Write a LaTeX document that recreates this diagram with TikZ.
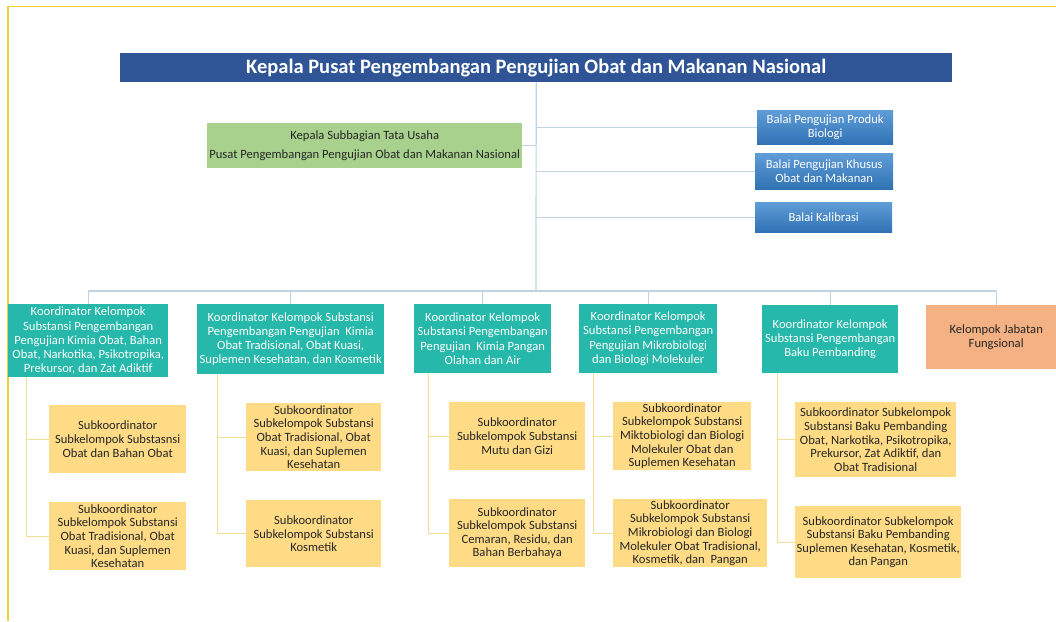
\documentclass[tikz,border=0pt]{standalone}
\usepackage{fontspec}
\setmainfont{Carlito}
\definecolor{pusatblue}{RGB}{47,85,151}
\definecolor{tugreen}{RGB}{169,209,142}
\definecolor{balaitop}{RGB}{96,157,216}
\definecolor{balaibottom}{RGB}{48,114,180}
\definecolor{koordteal}{RGB}{38,184,170}
\definecolor{subyellow}{RGB}{255,219,133}
\definecolor{jforange}{RGB}{244,177,131}
\definecolor{buslinie}{RGB}{190,212,226}
\definecolor{sublinie}{RGB}{242,222,150}
\definecolor{rand}{RGB}{238,208,60}
\tikzset{
  unit/.style={anchor=north west, inner sep=1pt, align=center,
    font=\fontsize{12.6}{13.6}\selectfont},
  kepala/.style={unit, fill=pusatblue, text=white,
    font=\fontsize{20.5}{22}\selectfont\bfseries},
  tatausaha/.style={unit, fill=tugreen, text=black!85,
    font=\fontsize{12.6}{19}\selectfont},
  balai/.style={unit, top color=balaitop, bottom color=balaibottom, text=white},
  koord/.style={unit, fill=koordteal, text=white, font=\fontsize{12.6}{14.2}\selectfont},
  subkoord/.style={unit, fill=subyellow, text=black!85},
  fungsional/.style={unit, fill=jforange, text=black!85},
  busline/.style={draw=buslinie, line width=1.2pt},
  subline/.style={draw=sublinie, line width=1pt}
}
\begin{document}
\begin{tikzpicture}[x=1pt,y=-1pt]
            \useasboundingbox (0,0) rectangle (1056,621);
            \draw[rand, line width=1.4pt] (8,621) -- (8,6.5) -- (1056,6.5);
            \node[kepala, minimum width=832, minimum height=29] (kp) at (120,53)
                {Kepala Pusat Pengembangan Pengujian Obat dan Makanan Nasional};
            \node[tatausaha, minimum width=315, minimum height=45] (ks) at (207,123)
                {Kepala Subbagian Tata Usaha\\Pusat Pengembangan Pengujian Obat dan Makanan Nasional};
            \node[balai, minimum width=136, minimum height=34] (b1) at (757,110)
                {Balai Pengujian Produk\\Biologi};
            \node[balai, minimum width=138, minimum height=36] (b2) at (755,153)
                {Balai Pengujian Khusus\\Obat dan Makanan};
            \node[balai, minimum width=137, minimum height=30] (b3) at (755,202)
                {Balai Kalibrasi};
            \node[koord, minimum width=160, minimum height=73] (k1) at (8,304)
                {Koordinator Kelompok\\Substansi Pengembangan\\Pengujian Kimia Obat, Bahan\\Obat, Narkotika, Psikotropika,\\Prekursor, dan Zat Adiktif};
            \node[koord, minimum width=187, minimum height=70] (k2) at (197,304)
                {Koordinator Kelompok Substansi\\Pengembangan Pengujian\ \ Kimia\\Obat Tradisional, Obat Kuasi,\\Suplemen Kesehatan, dan Kosmetik};
            \node[koord, minimum width=137, minimum height=69] (k3) at (414,304)
                {Koordinator Kelompok\\Substansi Pengembangan\\Pengujian\ \ Kimia Pangan\\Olahan dan Air};
            \node[koord, minimum width=138, minimum height=69] (k4) at (579,304)
                {Koordinator Kelompok\\Substansi Pengembangan\\Pengujian Mikrobiologi\\dan Biologi Molekuler};
            \node[koord, minimum width=136, minimum height=68] (k5) at (762,305)
                {Koordinator Kelompok\\Substansi Pengembangan\\Baku Pembanding};
            \node[fungsional, minimum width=140, minimum height=64] (k6) at (926,305)
                {Kelompok Jabatan\\Fungsional};
            \node[subkoord, minimum width=137, minimum height=68] (s1a) at (49,405)
                {Subkoordinator\\Subkelompok Substasnsi\\Obat dan Bahan Obat};
            \node[subkoord, minimum width=137, minimum height=68] (s1b) at (49,502)
                {Subkoordinator\\Subkelompok Substansi\\Obat Tradisional, Obat\\Kuasi, dan Suplemen\\Kesehatan};
            \node[subkoord, minimum width=135, minimum height=68] (s2a) at (246,403)
                {Subkoordinator\\Subkelompok Substansi\\Obat Tradisional, Obat\\Kuasi, dan Suplemen\\Kesehatan};
            \node[subkoord, minimum width=135, minimum height=67] (s2b) at (246,500)
                {Subkoordinator\\Subkelompok Substansi\\Kosmetik};
            \node[subkoord, minimum width=136, minimum height=68] (s3a) at (449,402)
                {Subkoordinator\\Subkelompok Substansi\\Mutu dan Gizi};
            \node[subkoord, minimum width=136, minimum height=68] (s3b) at (449,499)
                {Subkoordinator\\Subkelompok Substansi\\Cemaran, Residu, dan\\Bahan Berbahaya};
            \node[subkoord, minimum width=138, minimum height=68] (s4a) at (613,402)
                {Subkoordinator\\Subkelompok Substansi\\Miktobiologi dan Biologi\\Molekuler Obat dan\\Suplemen Kesehatan};
            \node[subkoord, minimum width=154, minimum height=68] (s4b) at (613,499)
                {Subkoordinator\\Subkelompok Substansi\\Mikrobiologi dan Biologi\\Molekuler Obat Tradisional,\\Kosmetik, dan\ \ Pangan};
            \node[subkoord, minimum width=161, minimum height=75] (s5a) at (795,402)
                {Subkoordinator Subkelompok\\Substansi Baku Pembanding\\Obat, Narkotika, Psikotropika,\\Prekursor, Zat Adiktif, dan\\Obat Tradisional};
            \node[subkoord, minimum width=166, minimum height=72] (s5b) at (795,506)
                {Subkoordinator Subkelompok\\Substansi Baku Pembanding\\Suplemen Kesehatan, Kosmetik,\\dan Pangan};
            \coordinate (bus) at (536,291);
            \draw[busline] (kp.south) -- (bus);
            \draw[busline] (k1.north |- bus) -- (k6.north |- bus);
            \foreach \k in {k1,k2,k3,k4,k5,k6}
                \draw[busline] (\k.north) -- (\k.north |- bus);
            \foreach \b in {b1,b2,b3}
                \draw[busline] (\b.west -| bus) -- (\b.west);
            \draw[busline] (ks.east) -- (ks.east -| bus);
            \foreach \k/\dx/\s in {k1/18/s1,k2/20/s2,k3/14/s3,k4/14/s4,k5/15/s5}{
                \coordinate (v\s) at ([xshift=\dx pt]\k.south west);
                \draw[subline] (v\s) |- (\s b.west);
                \draw[subline] (\s a.west) -- (\s a.west -| v\s);
            }
        \end{tikzpicture}
\end{document}
